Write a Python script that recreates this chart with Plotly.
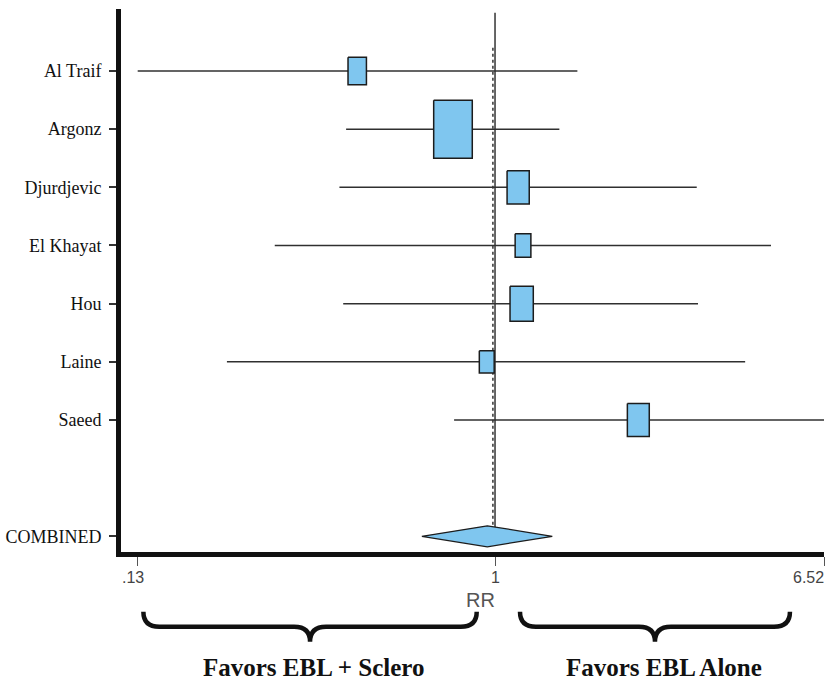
import math
import plotly.graph_objects as go

# ---------------- data ----------------
studies = ["Al Traif", "Argonz", "Djurdjevic", "El Khayat", "Hou", "Laine", "Saeed"]
rr = [0.456, 0.787, 1.141, 1.173, 1.164, 0.954, 2.263]
ci_low = [0.1305, 0.428, 0.412, 0.285, 0.421, 0.217, 0.792]
ci_high = [1.599, 1.443, 3.157, 4.82, 3.18, 4.16, 6.52]
weights = [8.9, 39.1, 12.9, 6.5, 14.2, 5.8, 12.6]  # % weight (box area)

combined_label = "COMBINED"
combined_rr = 0.957
combined_low = 0.659
combined_high = 1.386
dashed_ref = 0.988

axis_ticks = [0.13, 1, 6.52]
axis_tick_labels = [".13", "1", "6.52"]
axis_title = "RR"
left_favor = "Favors EBL + Sclero"
right_favor = "Favors EBL Alone"

# ---------------- layout constants ----------------
W, H = 826, 681
ML, MR, MT, MB = 121, 2, 9, 129
plot_w = W - ML - MR
plot_h = H - MT - MB
x_lo, x_hi = -0.9257, math.log10(6.52)
px_per_dec = plot_w / (x_hi - x_lo)
y_top, y_bot = -0.066, 9.27
px_per_row = plot_h / (y_bot - y_top)

rows = list(range(1, len(studies) + 1))
combined_row = 9

BLUE = "#7fc6ef"
EDGE = "#1c1c1c"

fig = go.Figure()

# reference lines
fig.add_trace(go.Scatter(x=[1, 1], y=[0, 8.85], mode="lines",
                         line=dict(color="#000000", width=1.2), hoverinfo="skip", showlegend=False))
fig.add_trace(go.Scatter(x=[dashed_ref, dashed_ref], y=[0.6, 8.85], mode="lines",
                         line=dict(color="#333333", width=1.5, dash="dot"), hoverinfo="skip", showlegend=False))

# CI lines
lx, ly = [], []
for lo, hi, r in zip(ci_low, ci_high, rows):
    lx += [lo, hi, None]
    ly += [r, r, None]
fig.add_trace(go.Scatter(x=lx, y=ly, mode="lines", line=dict(color="#303030", width=1.5),
                         hoverinfo="skip", showlegend=False))

# boxes
for est, w, r in zip(rr, weights, rows):
    h_px = math.sqrt(w * 86.13)
    hh = h_px / 2 / px_per_row
    hw = 0.665 * h_px / 2 / px_per_dec
    x0, x1 = est * 10 ** (-hw), est * 10 ** hw
    fig.add_trace(go.Scatter(x=[x0, x1, x1, x0, x0], y=[r - hh, r - hh, r + hh, r + hh, r - hh],
                             mode="lines", fill="toself", fillcolor=BLUE,
                             line=dict(color=EDGE, width=1.5), hoverinfo="skip", showlegend=False))

# combined diamond
dh = 10.5 / px_per_row
fig.add_trace(go.Scatter(x=[combined_low, combined_rr, combined_high, combined_rr, combined_low],
                         y=[combined_row, combined_row - dh, combined_row, combined_row + dh, combined_row],
                         mode="lines", fill="toself", fillcolor=BLUE,
                         line=dict(color=EDGE, width=1.2), hoverinfo="skip", showlegend=False))


def xp(v):
    return (math.log10(v) - x_lo) / (x_hi - x_lo)


def yp(py):
    return (H - MB - py) / plot_h


def brace(v0, v1, ytop_px, ymid_px, ybot_px, r_px=16):
    x0, x1 = xp(v0), xp(v1)
    xm = (x0 + x1) / 2
    rx = r_px / plot_w
    yt, ym, yb = yp(ytop_px), yp(ymid_px), yp(ybot_px)
    return (f"M {x0},{yt} Q {x0},{ym} {x0 + rx},{ym} L {xm - rx},{ym} "
            f"Q {xm},{ym} {xm},{yb} Q {xm},{ym} {xm + rx},{ym} "
            f"L {x1 - rx},{ym} Q {x1},{ym} {x1},{yt}")


shapes = [
    dict(type="path", xref="paper", yref="paper", path=brace(0.1348, 0.901, 611.7, 626.7, 641.7),
         line=dict(color="#111111", width=4.5)),
    dict(type="path", xref="paper", yref="paper", path=brace(1.153, 5.37, 611.7, 626.7, 641.7),
         line=dict(color="#111111", width=4.5)),
]

annotations = []
anchors = ["center", "center", "right"]
shifts = [-4, 0, 2]
for v, t, a, s in zip(axis_ticks, axis_tick_labels, anchors, shifts):
    annotations.append(dict(x=math.log10(v), xref="x", y=yp(577), yref="paper", text=t,
                            showarrow=False, xanchor=a, yanchor="middle", xshift=s,
                            font=dict(family="Liberation Sans, Arial", size=16, color="#444444")))
annotations.append(dict(x=xp(480) if False else (480 - ML) / plot_w, xref="paper", y=yp(600), yref="paper",
                        text=axis_title, showarrow=False, xanchor="center", yanchor="middle",
                        font=dict(family="Liberation Sans, Arial", size=20, color="#555555")))
annotations.append(dict(x=(313 - ML) / plot_w, xref="paper", y=yp(667), yref="paper",
                        text="<b>" + left_favor + "</b>", showarrow=False, xanchor="center", yanchor="middle",
                        font=dict(family="Liberation Serif, Times New Roman", size=25, color="#111111")))
annotations.append(dict(x=(664 - ML) / plot_w, xref="paper", y=yp(667), yref="paper",
                        text="<b>" + right_favor + "</b>", showarrow=False, xanchor="center", yanchor="middle",
                        font=dict(family="Liberation Serif, Times New Roman", size=25, color="#111111")))

fig.update_layout(
    width=W, height=H,
    margin=dict(l=ML, r=MR, t=MT, b=MB, pad=0),
    paper_bgcolor="white", plot_bgcolor="white",
    showlegend=False,
    shapes=shapes,
    annotations=annotations,
    xaxis=dict(type="log", range=[x_lo, x_hi], showgrid=False, zeroline=False,
               showline=True, linecolor="#111111", linewidth=5,
               tickvals=axis_ticks, ticktext=axis_tick_labels, showticklabels=False,
               ticks="outside", ticklen=9, tickwidth=1, tickcolor="#555555"),
    yaxis=dict(range=[y_bot, y_top], showgrid=False, zeroline=False,
               showline=True, linecolor="#111111", linewidth=5,
               tickvals=rows + [combined_row], ticktext=studies + [combined_label],
               ticks="outside", ticklen=7, tickwidth=1.5, tickcolor="#333333",
               tickfont=dict(family="Liberation Serif, Times New Roman", size=18, color="#111111"),
               ticklabelstandoff=4),
)

fig.write_html("out.html")
